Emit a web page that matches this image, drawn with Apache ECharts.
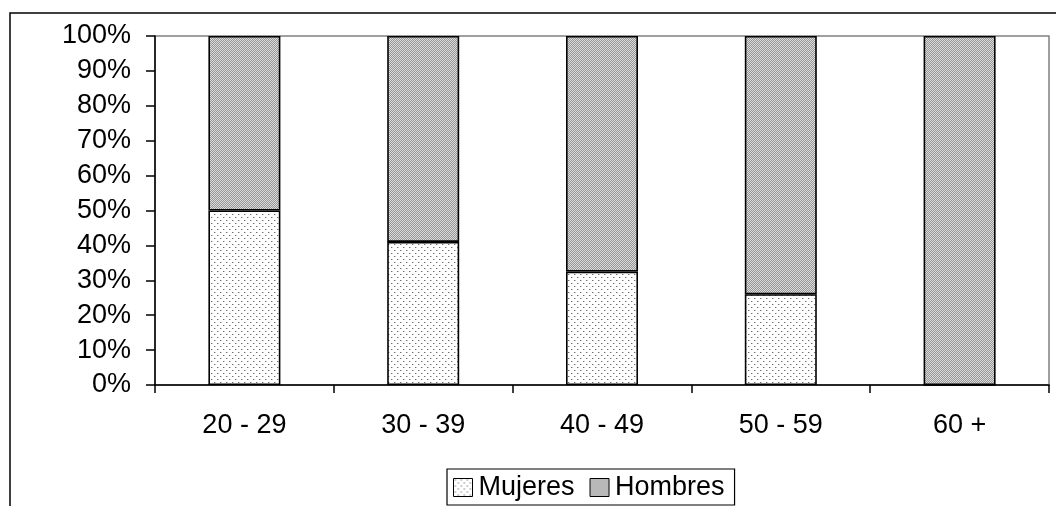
<!DOCTYPE html>
<html>
<head>
<meta charset="utf-8">
<script src="https://cdn.jsdelivr.net/npm/echarts@6/dist/echarts.min.js"></script>
<style>
html,body{margin:0;padding:0;background:#fff;}
#chart{width:1056px;height:506px;}
</style>
</head>
<body>
<div id="chart"></div>
<script>
var categories = ['20 - 29', '30 - 39', '40 - 49', '50 - 59', '60 +'];
var mujeres = [50, 41, 32.5, 26, 0];
var hombres = [50, 59, 67.5, 74, 100];
var seriesNames = ['Mujeres', 'Hombres'];

function makePattern(kind) {
  var c = document.createElement('canvas');
  var ctx = c.getContext('2d');
  if (kind === 'dots') {
    c.width = 6; c.height = 6;
    ctx.fillStyle = '#ffffff'; ctx.fillRect(0, 0, 6, 6);
    ctx.fillStyle = '#6e6e6e';
    ctx.fillRect(1, 1, 1, 1);
    ctx.fillRect(4, 4, 1, 1);
    ctx.fillStyle = '#c8c8c8';
    ctx.fillRect(2, 1, 1, 1);
    ctx.fillRect(5, 4, 1, 1);
  } else {
    c.width = 2; c.height = 2;
    ctx.fillStyle = '#959595'; ctx.fillRect(0, 0, 2, 2);
    ctx.fillStyle = '#dcdcdc';
    ctx.fillRect(0, 0, 1, 1);
    ctx.fillRect(1, 1, 1, 1);
  }
  return c;
}

var chart = echarts.init(document.getElementById('chart'), null, {renderer: 'canvas'});
var font = 'Liberation Sans, Arial, sans-serif';
chart.setOption({
  animation: false,
  backgroundColor: '#ffffff',
  graphic: [{
    type: 'rect',
    shape: {x: 10, y: 13, width: 1200, height: 600},
    style: {fill: 'none', stroke: '#000', lineWidth: 1.5},
    z: -10
  }],
  grid: {
    left: 155, right: 7, top: 36, bottom: 121,
    show: true, borderColor: '#808080', borderWidth: 1.5, backgroundColor: '#fff'
  },
  legend: {
    left: 447, top: 469,
    padding: [5, 10, 4, 6],
    itemWidth: 19, itemHeight: 18, itemGap: 15,
    borderColor: '#000', borderWidth: 1.2,
    icon: 'rect',
    itemStyle: {borderColor: '#000', borderWidth: 1},
    textStyle: {fontFamily: font, fontSize: 27, color: '#000', padding: [0, 0, 0, 1]},
    data: seriesNames
  },
  xAxis: {
    type: 'category',
    data: categories,
    boundaryGap: true,
    axisLine: {lineStyle: {color: '#000', width: 1.5}},
    axisTick: {show: true, length: 8, lineStyle: {color: '#000', width: 1.5}},
    axisLabel: {fontFamily: font, fontSize: 27, color: '#000', margin: 27}
  },
  yAxis: {
    type: 'value',
    min: 0, max: 100, interval: 10,
    axisLine: {show: true, lineStyle: {color: '#000', width: 1.5}},
    axisTick: {show: true, length: 9, lineStyle: {color: '#000', width: 1.5}},
    splitLine: {show: false},
    axisLabel: {fontFamily: font, fontSize: 27, color: '#000', margin: 24, formatter: '{value}%'}
  },
  series: [{
    name: seriesNames[0],
    type: 'bar', stack: 'total', barWidth: 72,
    data: mujeres,
    itemStyle: {color: {image: makePattern('dots'), repeat: 'repeat'}, borderColor: '#000', borderWidth: 1.6}
  }, {
    name: seriesNames[1],
    type: 'bar', stack: 'total', barWidth: 72,
    data: hombres,
    itemStyle: {color: {image: makePattern('checker'), repeat: 'repeat'}, borderColor: '#000', borderWidth: 1.6}
  }]
});
</script>
</body>
</html>
